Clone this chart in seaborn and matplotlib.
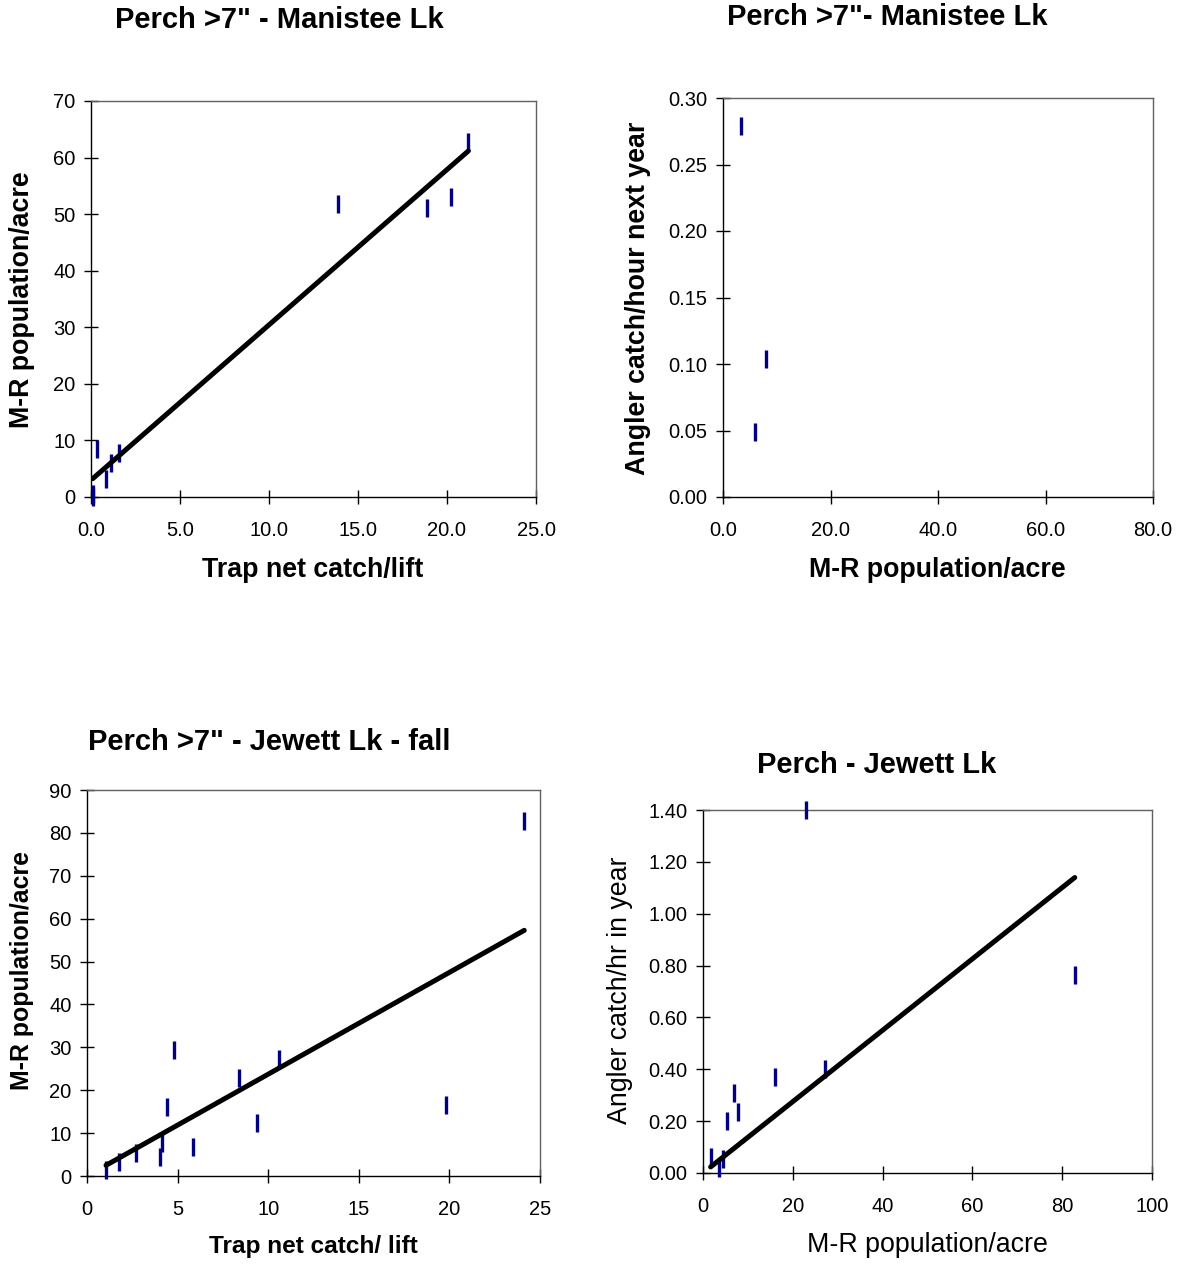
import numpy as np
import pandas as pd
import seaborn as sns
import matplotlib
matplotlib.use("Agg")
import matplotlib.pyplot as plt

# ---------------- data ----------------
# Panel 1: Perch >7" - Manistee Lk (trap net vs M-R population)
p1_trap = [0.1, 0.1, 0.32, 0.82, 1.14, 1.58, 13.9, 18.9, 20.2, 21.2]
p1_pop = [0.0, 0.5, 8.5, 3.2, 6.0, 7.8, 51.8, 51.0, 53.1, 62.7]

# Panel 2: Perch >7"- Manistee Lk (M-R population vs angler catch next year)
p2_pop = [3.3, 7.96, 6.03]
p2_catch = [0.279, 0.104, 0.049]

# Panel 3: Perch >7" - Jewett Lk - fall
p3_trap = [1.05, 1.79, 2.71, 4.05, 4.16, 4.39, 4.81, 5.85, 8.40, 9.39, 10.57, 19.8, 24.13]
p3_pop = [1.4, 3.3, 5.3, 4.4, 7.8, 16.1, 29.4, 6.8, 22.9, 12.35, 27.3, 16.5, 82.75]

# Panel 4: Perch - Jewett Lk
p4_pop = [1.7, 3.5, 4.4, 5.4, 6.9, 7.7, 16.1, 22.9, 27.1, 82.8]
p4_catch = [0.062, 0.019, 0.054, 0.200, 0.308, 0.234, 0.372, 1.40, 0.401, 0.764]

titles = ['Perch >7" - Manistee Lk', 'Perch >7"- Manistee Lk',
          'Perch >7" - Jewett Lk - fall', 'Perch - Jewett Lk']
xlabels = ["Trap net catch/lift", "M-R population/acre",
           "Trap net catch/ lift", "M-R population/acre"]
ylabels = ["M-R population/acre", "Angler catch/hour next year",
           "M-R population/acre", "Angler catch/hr in year"]

# ---------------- style ----------------
sns.set_theme(style="white")
plt.rcParams["font.family"] = ["Liberation Sans", "DejaVu Sans"]
plt.rcParams["text.color"] = "black"
plt.rcParams["xtick.color"] = "black"
plt.rcParams["ytick.color"] = "black"

W, H = 1181, 1264
DPI = 100
fig = plt.figure(figsize=(W / DPI, H / DPI), dpi=DPI)
fig.patch.set_facecolor("white")

MARK = "#000080"
TICK_FS = 14.5


def px_axes(x0, y0, x1, y1):
    return fig.add_axes([x0 / W, 1 - y1 / H, (x1 - x0) / W, (y1 - y0) / H])


def px_text(x, y, s, **kw):
    fig.text(x / W, 1 - y / H, s, ha="center", va="center", color="black", **kw)


def style_axes(ax):
    for side in ["left", "bottom"]:
        ax.spines[side].set_color("black")
        ax.spines[side].set_linewidth(1.0)
    for side in ["top", "right"]:
        ax.spines[side].set_color("#606060")
        ax.spines[side].set_linewidth(1.0)
        ax.spines[side].set_visible(True)
    ax.tick_params(axis="both", which="major", direction="inout", length=10,
                   width=1.0, color="black", labelcolor="black",
                   labelsize=TICK_FS,
                   left=True, bottom=True, top=False, right=False)
    ax.tick_params(axis="x", pad=12)
    ax.tick_params(axis="y", pad=6)
    ax.set_xlabel("")
    ax.set_ylabel("")
    ax.grid(False)


def draw(ax, x, y, fit_line):
    sns.scatterplot(x=x, y=y, ax=ax, marker="|", s=150, color=MARK,
                    linewidth=2.4, zorder=3, legend=False, clip_on=False)
    if fit_line is not None:
        xs, ys = fit_line
        sns.lineplot(x=xs, y=ys, ax=ax, color="black", linewidth=3.6,
                     solid_capstyle="round", zorder=4, legend=False)


def ols_line(x, y):
    x = np.asarray(x, float); y = np.asarray(y, float)
    b, a = np.polyfit(x, y, 1)
    xs = np.array([x.min(), x.max()])
    return xs, a + b * xs


def origin_line(x, y):
    x = np.asarray(x, float); y = np.asarray(y, float)
    b = (x * y).sum() / (x * x).sum()
    xs = np.array([x.min(), x.max()])
    return xs, b * xs


# Panel 1
ax1 = px_axes(91, 101, 536, 497)
draw(ax1, p1_trap, p1_pop, ols_line(p1_trap, p1_pop))
ax1.set_xlim(0, 25); ax1.set_ylim(0, 70)
ax1.set_xticks(np.arange(0, 26, 5)); ax1.set_yticks(np.arange(0, 71, 10))
ax1.set_xticklabels([f"{v:.1f}" for v in np.arange(0, 26, 5)])
style_axes(ax1)

# Panel 2
ax2 = px_axes(723, 98, 1153, 497)
draw(ax2, p2_pop, p2_catch, None)
ax2.set_xlim(0, 80); ax2.set_ylim(0, 0.30)
ax2.set_xticks(np.arange(0, 81, 20)); ax2.set_yticks(np.arange(0, 0.301, 0.05))
ax2.set_xticklabels([f"{v:.1f}" for v in np.arange(0, 81, 20)])
ax2.set_yticklabels([f"{v:.2f}" for v in np.arange(0, 0.301, 0.05)])
style_axes(ax2)

# Panel 3
ax3 = px_axes(87, 790, 540, 1176)
draw(ax3, p3_trap, p3_pop, origin_line(p3_trap, p3_pop))
ax3.set_xlim(0, 25); ax3.set_ylim(0, 90)
ax3.set_xticks(np.arange(0, 26, 5)); ax3.set_yticks(np.arange(0, 91, 10))
style_axes(ax3)

# Panel 4
ax4 = px_axes(703, 810, 1152, 1173)
draw(ax4, p4_pop, p4_catch, origin_line(p4_pop, p4_catch))
ax4.set_xlim(0, 100); ax4.set_ylim(0, 1.40)
ax4.set_xticks(np.arange(0, 101, 20)); ax4.set_yticks(np.arange(0, 1.401, 0.2))
ax4.set_yticklabels([f"{v:.2f}" for v in np.arange(0, 1.401, 0.2)])
style_axes(ax4)

# Titles
px_text(279, 20, titles[0], fontsize=21, fontweight="bold")
px_text(887, 17, titles[1], fontsize=21, fontweight="bold")
px_text(269, 742, titles[2], fontsize=21, fontweight="bold")
px_text(877, 765, titles[3], fontsize=21, fontweight="bold")

# X labels
px_text(313, 570, xlabels[0], fontsize=19.3, fontweight="bold")
px_text(937, 570, xlabels[1], fontsize=19.3, fontweight="bold")
px_text(313, 1247, xlabels[2], fontsize=17.6, fontweight="bold")
px_text(927, 1245, xlabels[3], fontsize=19.3)

# Y labels
px_text(22, 300, ylabels[0], fontsize=19.3, fontweight="bold", rotation=90)
px_text(638, 298, ylabels[1], fontsize=19.3, fontweight="bold", rotation=90)
px_text(22, 970, ylabels[2], fontsize=17.9, fontweight="bold", rotation=90)
px_text(620, 990, ylabels[3], fontsize=19.3, rotation=90)

fig.savefig("out.png", dpi=DPI, facecolor="white")
